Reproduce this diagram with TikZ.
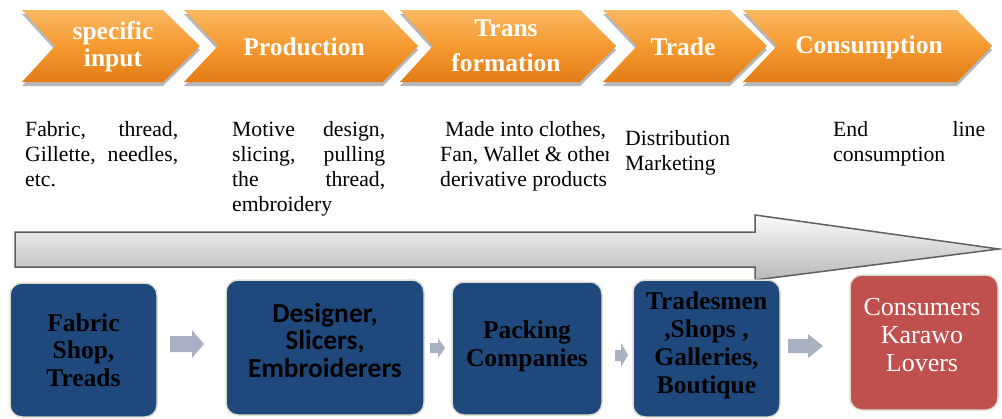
\documentclass[tikz,border=0pt]{standalone}
\usepackage{fontspec}
\setmainfont{Liberation Serif}
\newfontfamily\carl{Carlito}
\usetikzlibrary{shadows}
\definecolor{chevtop}{RGB}{250,184,98}
\definecolor{chevmid}{RGB}{245,154,48}
\definecolor{chevbot}{RGB}{226,124,22}
\definecolor{boxblue}{RGB}{31,73,125}
\definecolor{boxred}{RGB}{192,80,77}
\definecolor{boxrim}{RGB}{222,222,208}
\definecolor{smallarr}{RGB}{168,176,194}
\definecolor{arrline}{RGB}{95,95,95}
\definecolor{arrtop}{RGB}{250,250,250}
\definecolor{arrbot}{RGB}{185,185,185}
\begin{document}
\begin{tikzpicture}[x=1pt,y=-1pt,
  chev/.style={top color=chevtop, bottom color=chevbot, middle color=chevmid, draw=none,
    drop shadow={shadow xshift=0pt,shadow yshift=-4pt,opacity=0.4,fill=black!70}},
  chevtext/.style={text=white, font=\fontsize{25.5}{27}\selectfont\bfseries, align=center, inner sep=0pt},
  desc/.style={font=\fontsize{21.7}{25}\selectfont, align=left, anchor=north west, inner sep=0pt},
  rbox/.style={rounded corners=12pt, draw=boxrim, line width=1.5pt, inner sep=0pt},
  bluebox/.style={rbox, fill=boxblue},
  redbox/.style={rbox, fill=boxred},
  serbold/.style={font=\fontsize{25.5}{27.5}\selectfont\bfseries, align=center, inner sep=0pt, text=black},
  smallarrow/.style={fill=smallarr, draw=none},
  bigarrow/.style={top color=arrtop, bottom color=arrbot, draw=arrline, line width=1.5pt, line join=miter}
]
\useasboundingbox (0,0) rectangle (1002,418);
\fill[white] (0,0) rectangle (1002,418);

% chevrons
\path[chev] (22,10) -- (163,10) -- (200,46) -- (163,82) -- (22,82) -- (55,46) -- cycle;
\path[chev] (184,10) -- (383,10) -- (418,46) -- (383,82) -- (184,82) -- (218,46) -- cycle;
\path[chev] (400,10) -- (580,10) -- (616,46) -- (580,82) -- (400,82) -- (433,46) -- cycle;
\path[chev] (603,10) -- (730,10) -- (767,46) -- (730,82) -- (603,82) -- (637,46) -- cycle;
\path[chev] (743,10) -- (957,10) -- (992,46) -- (957,82) -- (743,82) -- (777,46) -- cycle;

\node[chevtext] (c1) at (113,46.5) {specific\\input};
\node[chevtext] (c2) at (304,47) {Production};
\node[chevtext, font=\fontsize{25.5}{35}\selectfont\bfseries] (c3) at (506,45.5) {Trans\\formation};
\node[chevtext] (c4) at (683,47) {Trade};
\node[chevtext] (c5) at (869,47) {Consumption};

% description texts
\node[desc] (d1) at (25,121) {\makebox[153pt][s]{Fabric, thread,}\\\makebox[153pt][s]{Gillette, needles,}\\etc.};
\node[desc] (d2) at (232,121) {\makebox[153pt][s]{Motive design,}\\\makebox[153pt][s]{slicing, pulling}\\\makebox[153pt][s]{the thread,}\\embroidery};
\begin{scope}
  \clip (430,110) rectangle (608.5,200);
  \node[desc] (d3) at (440,121) {\hspace*{5pt}Made into clothes,\\Fan, Wallet \& other\\derivative products};
\end{scope}
\node[desc] (d4) at (625,130) {Distribution\\Marketing};
\node[desc] (d5) at (833,121) {\makebox[152pt][s]{End line}\\consumption};

% big gray arrow
\path[bigarrow] (15,232) -- (755,232) -- (755,215) -- (999,249) -- (755,280) -- (755,267) -- (15,267) -- cycle;

% bottom boxes
\node[bluebox, minimum width=147pt, minimum height=134pt] (b1) at (83.5,350) {};
\node[bluebox, minimum width=198pt, minimum height=135pt] (b2) at (325,347.5) {};
\node[bluebox, minimum width=150pt, minimum height=133pt] (b3) at (527,348.5) {};
\node[bluebox, minimum width=147pt, minimum height=137pt] (b4) at (706.5,348.5) {};
\node[redbox, minimum width=148pt, minimum height=135pt] (b5) at (924,342.5) {};

\node[serbold] (t1) at (83.5,350) {Fabric\\Shop,\\Treads};
\node[font=\carl\fontsize{27.5}{27.5}\selectfont\bfseries, align=center, inner sep=0pt, text=black] (t2) at (325,340) {Designer,\\Slicers,\\Embroiderers};
\node[serbold, font=\fontsize{25.5}{28}\selectfont\bfseries] (t3) at (527,346) {Packing\\Companies};
\node[serbold, font=\fontsize{25.5}{28}\selectfont\bfseries] (t4) at (706.5,345) {Tradesmen\\,Shops ,\\Galleries,\\Boutique};
\node[font=\fontsize{26}{28}\selectfont, align=center, inner sep=0pt, text=white] (t5) at (922,335) {Consumers\\Karawo\\Lovers};

% small arrows between boxes
\path[smallarrow] (170,336) -- (192,336) -- (192,330) -- (204,344) -- (192,358) -- (192,352) -- (170,352) -- cycle;
\path[smallarrow] (430,343) -- (438,343) -- (438,338) -- (445,348) -- (438,358) -- (438,353) -- (430,353) -- cycle;
\path[smallarrow] (615,350) -- (621,350) -- (621,343) -- (628,355) -- (621,367) -- (621,361) -- (615,361) -- cycle;
\path[smallarrow] (788,339) -- (808,339) -- (808,334) -- (823,346) -- (808,358) -- (808,353) -- (788,353) -- cycle;
\end{tikzpicture}
\end{document}
